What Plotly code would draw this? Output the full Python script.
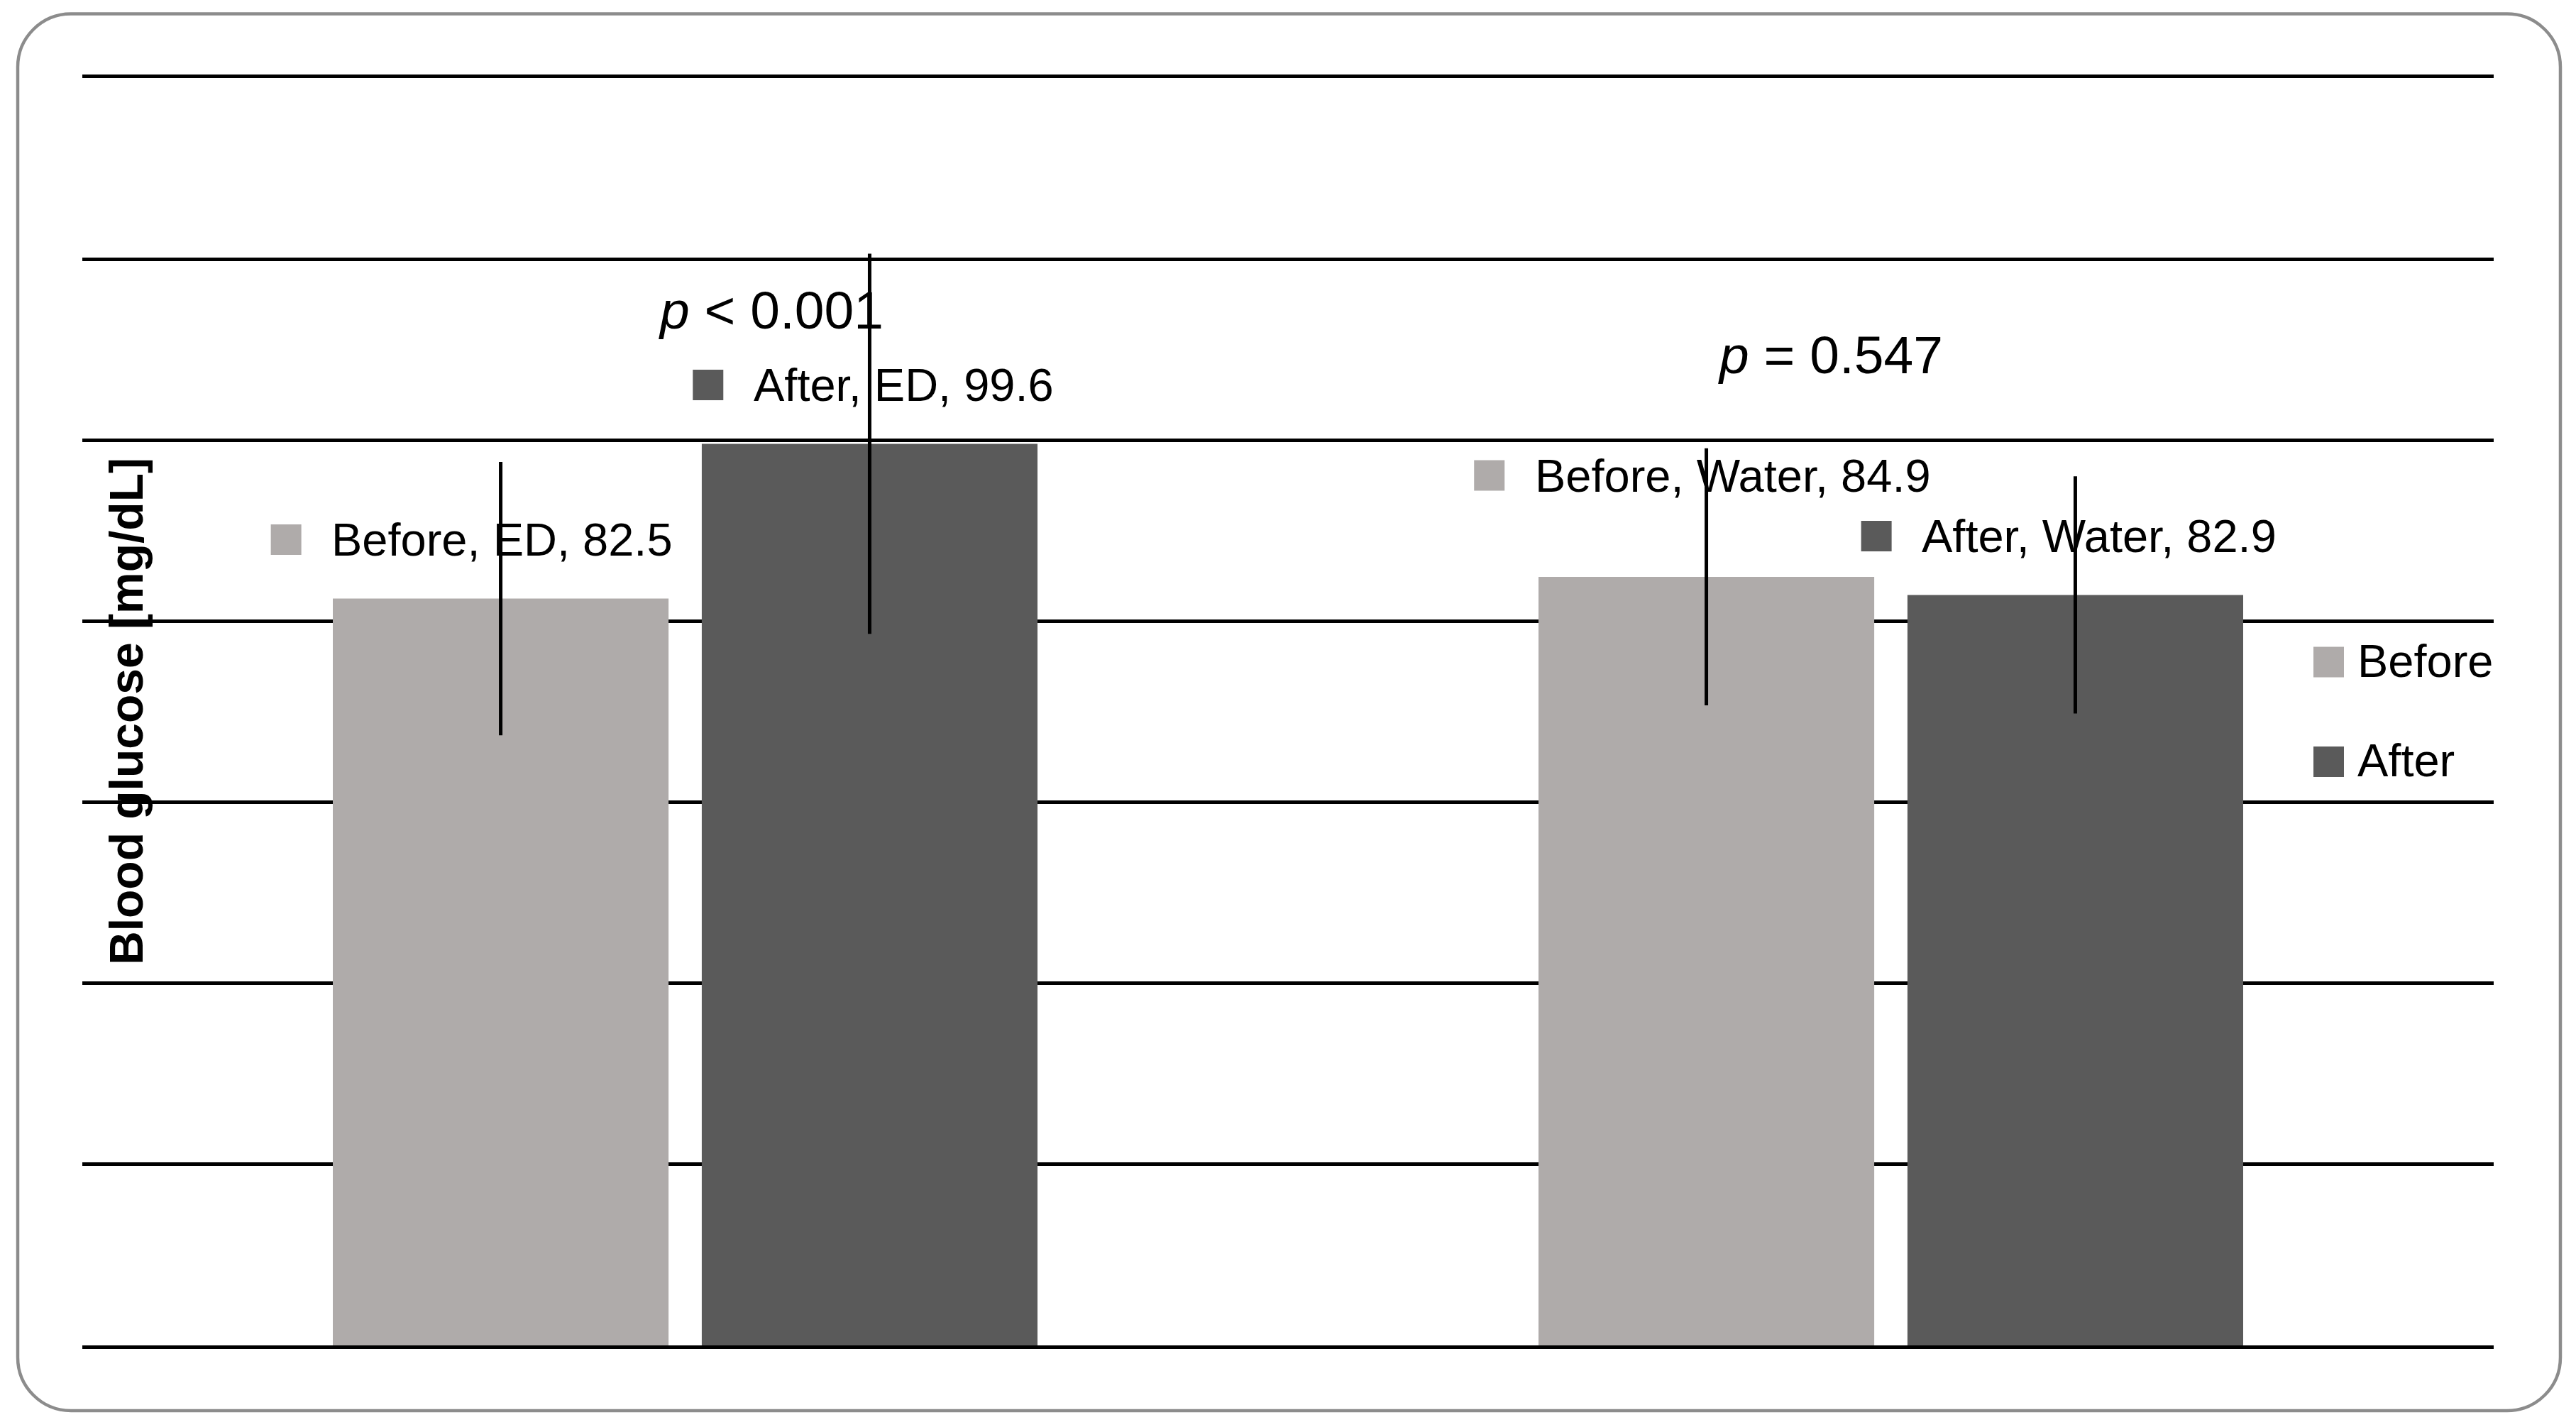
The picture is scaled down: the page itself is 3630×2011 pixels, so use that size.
import plotly.graph_objects as go

# data
groups = ["ED", "Water"]
series = ["Before", "After"]
glucose = {"Before": [82.5, 84.9], "After": [99.6, 82.9]}
sd = {"Before": [15.1, 14.2], "After": [21.0, 13.1]}
p_labels = ["<i>p</i> < 0.001", "<i>p</i> = 0.547"]

colors = {"Before": "#AFABAA", "After": "#5A5A5A"}
FONT = "Liberation Sans, Arial, sans-serif"

W, H = 3630, 2011
L, R, T, B = 116, 116, 110, 115

# where Excel put the data labels (relative to each bar centre / top)
bar_shift = {"Before": -0.153, "After": 0.153}
lab_dx = {"Before": [-0.178, -0.180], "After": [-0.134, -0.165]}
lab_dy = {"Before": [6.5, 11.2], "After": [6.5, 6.5]}
text_dx = 0.0365
p_pos = [(0.0715, 114.4), (0.950, 109.4)]

xpos = list(range(len(groups)))

fig = go.Figure()
for s in series:
    fig.add_trace(go.Bar(
        x=xpos, y=glucose[s], name=s,
        marker=dict(color=colors[s], line=dict(width=0)),
        error_y=dict(type="data", array=sd[s], color="black", thickness=5, width=0),
        showlegend=False,
    ))

annotations = []
for s in series:
    lx = [x + bar_shift[s] + d for x, d in zip(xpos, lab_dx[s])]
    ly = [v + d for v, d in zip(glucose[s], lab_dy[s])]
    fig.add_trace(go.Scatter(
        x=lx, y=ly, mode="markers",
        marker=dict(symbol="square", size=43, color=colors[s], line=dict(width=0)),
        showlegend=False, hoverinfo="skip",
    ))
    for g, x, y, v in zip(groups, lx, ly, glucose[s]):
        annotations.append(dict(
            x=x + text_dx, y=y, xref="x", yref="y", xanchor="left", yanchor="middle",
            text=f"{s}, {g}, {v}", showarrow=False,
            font=dict(family=FONT, size=65, color="black"),
        ))

for txt, (x, y) in zip(p_labels, p_pos):
    annotations.append(dict(
        x=x, y=y, xref="x", yref="y", xanchor="center", yanchor="middle",
        text=txt, showarrow=False, font=dict(family=FONT, size=75, color="black"),
    ))


def px2paper(x, y):
    return (x - L) / (W - L - R), (H - B - y) / (H - T - B)


# y axis title sits inside the plot area
tx, ty = px2paper(178, 1003)
annotations.append(dict(
    x=tx, y=ty, xref="paper", yref="paper", xanchor="center", yanchor="middle",
    text="<b>Blood glucose [mg/dL]</b>", textangle=-90, showarrow=False,
    font=dict(family=FONT, size=66, color="black"),
))

# hand drawn legend (plotly caps the key size)
shapes = []
for s, cy in zip(series, [933, 1073.5]):
    x0, y0 = px2paper(3260, cy - 21.5)
    x1, y1 = px2paper(3303, cy + 21.5)
    shapes.append(dict(type="rect", xref="paper", yref="paper", x0=x0, y0=y0, x1=x1, y1=y1,
                       fillcolor=colors[s], line=dict(width=0)))
    ax, ay = px2paper(3320, cy - 2)
    annotations.append(dict(
        x=ax, y=ay, xref="paper", yref="paper", xanchor="left", yanchor="middle",
        text=s, showarrow=False, font=dict(family=FONT, size=65, color="black"),
    ))

# rounded outer frame
bx0, by0, bx1, by1, r = 25, 19.5, 3608, 1988, 75
k = 0.5523 * r
pts = [
    ("M", [(bx0 + r, by0)]),
    ("L", [(bx1 - r, by0)]),
    ("C", [(bx1 - r + k, by0), (bx1, by0 + r - k), (bx1, by0 + r)]),
    ("L", [(bx1, by1 - r)]),
    ("C", [(bx1, by1 - r + k), (bx1 - r + k, by1), (bx1 - r, by1)]),
    ("L", [(bx0 + r, by1)]),
    ("C", [(bx0 + r - k, by1), (bx0, by1 - r + k), (bx0, by1 - r)]),
    ("L", [(bx0, by0 + r)]),
    ("C", [(bx0, by0 + r - k), (bx0 + r - k, by0), (bx0 + r, by0)]),
]
path = ""
for cmd, coords in pts:
    path += cmd + " ".join("%.5f,%.5f" % px2paper(x, y) for x, y in coords) + " "
path += "Z"
shapes.append(dict(type="path", xref="paper", yref="paper", path=path,
                   line=dict(color="#8C8C8C", width=4.5), fillcolor="rgba(0,0,0,0)"))

fig.update_layout(
    width=W, height=H,
    margin=dict(l=L, r=R, t=T, b=B),
    paper_bgcolor="white", plot_bgcolor="white",
    barmode="group", bargap=0.388, bargroupgap=0.09,
    showlegend=False,
    annotations=annotations, shapes=shapes,
    font=dict(family=FONT, color="black"),
)
# x axis line mirrored gives the 0 and 140 lines at the plot edges
fig.update_xaxes(range=[-0.5, 1.5], showgrid=False, zeroline=False,
                 showticklabels=False, ticks="", showline=True, mirror=True,
                 linecolor="black", linewidth=4.5)
fig.update_yaxes(range=[0, 140], tick0=0, dtick=20, showgrid=True, gridcolor="black",
                 gridwidth=4.5, zeroline=False, showticklabels=False, ticks="", showline=False)

fig.write_html("out.html", config={"displayModeBar": False},
               post_script="document.body.style.margin='0';")
